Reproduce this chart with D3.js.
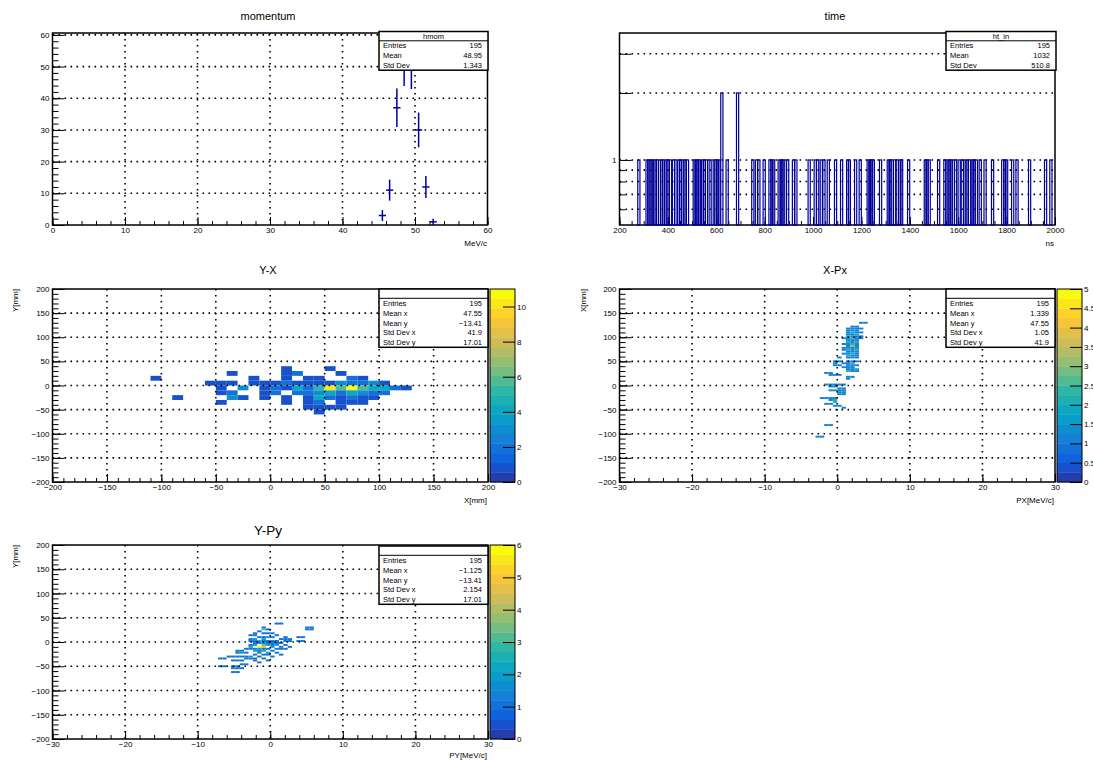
<!DOCTYPE html>
<html>
<head>
<meta charset="utf-8">
<script src="https://cdn.jsdelivr.net/npm/d3@7"></script>
<style>
body { margin: 0; background: #fff; }
text { font-family: "Liberation Sans", Arial, sans-serif; fill: #000; }
.grid { stroke: #000; stroke-width: 1.6; stroke-dasharray: 1.6,4.4; }
</style>
</head>
<body>
<script>
// momentum histogram (bin centre, counts)
var momBins = [45.5, 46.5, 47.5, 48.5, 49.5, 50.5, 51.5, 52.5];
var momCounts = [3, 11, 37, 51, 50, 30, 12, 1];

// time histogram, filled bins (ns) and their counts
var timeNs = [280,314,321,331,338,346,357,365,375,382,392,400,411,423,433,445,452,462,470,481,
	509,516,524,531,543,550,560,569,586,596,604,611,623,645,688,751,766,776,798,822,830,837,
	860,868,875,885,895,919,929,984,1009,1019,1034,1045,1063,1093,1118,1143,1150,1176,1195,
	1228,1235,1242,1249,1279,1311,1318,1327,1337,1348,1359,1366,1395,1464,1471,1480,1519,
	1545,1553,1563,1570,1580,1589,1604,1617,1628,1636,1647,1658,1665,1675,1691,1711,1742,
	1784,1793,1800,1825,1843,1895,1961,1983];
var timeCounts = timeNs.map(function(t){ return (t == 623 || t == 688) ? 2 : 1; });

// Y-X cells: [x low, y low, entries], bins 10 x 10 mm
var yxCells = [
	[-110,10,1],[-90,-30,1],[-60,0,1],[-50,0,1],[-40,0,1],[-40,20,1],[-20,10,1],[-20,0,1],[-10,0,1],
	[-50,-10,1],[-30,-10,3],[-10,-10,1],[-50,-20,1],[-40,-20,2],[-10,-20,1],
	[-40,-30,3],[-30,-30,1],[-10,-30,1],[-50,-40,1],
	[10,30,1],[50,30,1],[10,20,1],[20,20,2],[60,20,1],
	[10,10,1],[30,10,1],[40,10,1],[70,10,2],[80,10,1],
	[0,0,1],[10,0,2],[20,0,1],[30,0,1],[40,0,1],[50,0,1],[60,0,3],[70,0,2],[80,0,2],[90,0,3],[100,0,1],
	[0,-10,2],[10,-10,1],[20,-10,4],[30,-10,2],[40,-10,5],[50,-10,10],[60,-10,6],[70,-10,11],
	[80,-10,6],[90,-10,4],[100,-10,4],[110,-10,2],[120,-10,1],
	[0,-20,2],[20,-20,2],[30,-20,2],[40,-20,3],[50,-20,4],[60,-20,2],[70,-20,4],[80,-20,3],[90,-20,2],[100,-20,2],
	[10,-30,1],[30,-30,1],[40,-30,4],[50,-30,2],[60,-30,1],[70,-30,2],[80,-30,1],[90,-30,1],
	[10,-40,1],[30,-40,1],[40,-40,2],[60,-40,1],[70,-40,1],[80,-40,1],
	[30,-50,1],[40,-50,1],[50,-50,1],[60,-50,1],[40,-60,1]
];

// X-Px cells: [px low, x low, entries], bins 0.6 MeV/c x 4 mm
var xpxCells = [
	[3.0,128,1],[3.6,128,1],[1.8,120,1],[2.4,120,1],
	[1.2,116,1],[1.8,116,1],[2.4,116,1],[3.0,116,1],[1.2,112,1],[1.8,112,1],[2.4,112,1],
	[1.2,108,1],[1.8,108,2],[2.4,108,1],[3.0,108,1],[1.2,104,1],[1.8,104,1],[2.4,104,2],
	[1.2,100,2],[1.8,100,1],[2.4,100,1],[3.0,100,1],[0.6,96,1],[1.2,96,1],[1.8,96,2],[2.4,96,1],[3.0,96,1],
	[1.2,92,1],[1.8,92,1],[2.4,92,1],[1.2,88,2],[1.8,88,1],[2.4,88,2],
	[0.6,84,1],[1.2,84,1],[1.8,84,2],[2.4,84,1],[1.2,80,1],[1.8,80,3],[2.4,80,1],
	[0.6,76,1],[1.2,76,1],[1.8,76,1],[2.4,76,1],[0.6,72,1],[1.2,72,2],[1.8,72,1],[2.4,72,2],
	[1.2,68,1],[1.8,68,1],[2.4,68,1],[0.6,64,1],[1.2,64,1],[1.8,64,2],[2.4,64,1],
	[1.2,60,2],[1.8,60,1],[2.4,60,1],[0.0,56,1],[1.2,56,1],[1.8,56,1],[2.4,56,1],
	[-0.6,48,1],[0.0,48,1],[1.2,48,1],[1.8,48,1],[2.4,48,1],[-0.6,44,1],[0.6,44,1],[1.2,44,1],[1.8,44,2],
	[-0.6,40,1],[0.0,40,1],[1.2,40,1],[1.8,40,1],[2.4,40,1],[0.6,36,1],[1.2,36,1],[1.8,36,1],
	[1.2,32,1],[1.8,32,1],[2.4,32,2],[1.2,28,2],[1.8,28,1],[2.4,28,1],
	[-1.8,24,1],[-1.2,24,1],[-1.2,20,1],[-0.6,20,1],[0.0,20,1],[1.2,16,1],[1.8,16,1],[1.2,12,1],
	[-1.8,0,1],[-1.2,0,1],[-0.6,0,1],[0.0,0,1],[0.6,0,1],[-1.2,-4,1],[-0.6,-4,1],[0.0,-8,1],[0.6,-8,1],
	[-1.2,-12,1],[-0.6,-12,1],[0.0,-12,1],[0.6,-12,1],[0.0,-16,1],[0.6,-16,1],[0.0,-20,1],[0.6,-20,1],
	[-2.4,-28,1],[-1.8,-28,1],[-1.2,-28,1],[-0.6,-28,1],[-1.2,-32,1],[-0.6,-32,2],[-0.6,-36,2],
	[-1.8,-40,1],[-1.2,-40,1],[-0.6,-44,1],[0.0,-44,1],[0.6,-48,1],
	[-1.8,-84,1],[-1.2,-84,1],[-3.0,-108,1],[-2.4,-108,1]
];

// Y-Py cells: [py low, y low, entries], bins 0.6 MeV/c x 4 mm
var ypyCells = [
	[-7.2,-36,1],[-6.6,-36,1],[-7.2,-52,1],[-6.6,-52,1],[-5.4,-52,1],[-4.8,-52,1],
	[-5.4,-64,1],[-4.8,-64,1],[-5.4,-56,1],[-4.8,-56,1],[-4.2,-56,1],
	[-6.0,-32,1],[-5.4,-32,1],[-4.8,-32,1],[-4.2,-32,1],[-5.4,-40,1],[-4.8,-40,1],[-4.2,-40,1],
	[-4.2,-48,1],[-3.6,-48,1],[-4.8,-24,1],[-4.2,-24,2],[-3.6,-24,1],[-4.8,-20,1],[-4.2,-20,1],
	[-3.6,-36,1],[-3.0,-36,1],[-3.6,-32,1],[-3.0,-32,2],[-3.6,-16,1],[-3.0,-16,1],[-3.0,-12,2],
	[-3.0,-8,1],[-3.0,0,1],[-3.0,4,1],[-3.0,12,1],
	[-2.4,16,1],[-2.4,12,1],[-2.4,4,2],[-2.4,0,1],[-2.4,-4,1],[-2.4,-8,2],[-2.4,-16,1],[-2.4,-20,2],
	[-2.4,-28,1],[-2.4,-36,1],[-2.4,-40,1],
	[-1.8,20,1],[-1.8,8,1],[-1.8,0,2],[-1.8,-4,1],[-1.8,-12,6],[-1.8,-16,2],[-1.8,-20,1],[-1.8,-24,1],
	[-1.8,-32,1],[-1.8,-44,1],
	[-1.2,28,1],[-1.2,24,3],[-1.2,16,1],[-1.2,8,1],[-1.2,4,2],[-1.2,0,1],[-1.2,-4,2],[-1.2,-8,3],
	[-1.2,-12,5],[-1.2,-16,1],[-1.2,-20,2],[-1.2,-28,1],[-1.2,-36,1],
	[-0.6,24,1],[-0.6,16,1],[-0.6,8,2],[-0.6,0,1],[-0.6,-4,1],[-0.6,-8,2],[-0.6,-16,1],[-0.6,-24,2],
	[-0.6,-28,1],[-0.6,-40,1],
	[0.0,16,1],[0.0,8,1],[0.0,0,1],[0.0,-4,1],[0.0,-8,1],[0.0,-12,2],[0.0,-20,1],[0.0,-32,1],
	[0.6,36,1],[1.2,36,1],[0.6,12,1],[0.6,0,1],[0.6,-4,1],[0.6,-8,2],[0.6,-16,1],[0.6,-24,1],
	[1.2,4,1],[1.2,-4,1],[1.2,-12,1],[1.2,-16,1],[1.2,-28,1],
	[1.8,8,1],[1.8,4,1],[1.8,0,1],[1.8,-8,1],[1.8,-16,1],[2.4,4,1],[2.4,0,1],[2.4,-12,1],
	[3.6,8,1],[4.2,8,1],[3.6,0,1],[4.2,0,1],[4.8,28,1],[5.4,28,1],[4.8,24,1],[5.4,24,1]
];

// stats boxes
var statsMom = [["Entries","195"],["Mean","48.95"],["Std Dev","1.343"]];
var statsTime = [["Entries","195"],["Mean","1032"],["Std Dev","510.8"]];
var statsYX = [["Entries","195"],["Mean x","47.55"],["Mean y","\u221213.41"],["Std Dev x","41.9"],["Std Dev y","17.01"]];
var statsXPx = [["Entries","195"],["Mean x","1.339"],["Mean y","47.55"],["Std Dev x","1.05"],["Std Dev y","41.9"]];
var statsYPy = [["Entries","195"],["Mean x","\u22121.125"],["Mean y","\u221213.41"],["Std Dev x","2.154"],["Std Dev y","17.01"]];

var W = 1093, H = 760;
var lineCol = "#000099";

var svg = d3.select("body").append("svg").attr("width", W).attr("height", H);

// ROOT kBird palette
var birdStops = [0, 0.125, 0.25, 0.375, 0.5, 0.625, 0.75, 0.875, 1];
var birdR = [0.2082, 0.0592, 0.0780, 0.0232, 0.1802, 0.5301, 0.8186, 0.9956, 0.9764];
var birdG = [0.1664, 0.3599, 0.5041, 0.6419, 0.7178, 0.7492, 0.7328, 0.7862, 0.9832];
var birdB = [0.5293, 0.8684, 0.8385, 0.7914, 0.6425, 0.4662, 0.3499, 0.1968, 0.0539];
var rS = d3.scaleLinear().domain(birdStops).range(birdR).clamp(true);
var gS = d3.scaleLinear().domain(birdStops).range(birdG).clamp(true);
var bS = d3.scaleLinear().domain(birdStops).range(birdB).clamp(true);
function bird(t){
	return d3.rgb(rS(t)*255, gS(t)*255, bS(t)*255).toString();
}
function zColor(z, zmax){
	var band = Math.min(19, Math.floor(0.01 + z / zmax * 20));
	return bird((band + 0.99) / 20);
}

function fmt(v){
	return v < 0 ? "\u2212" + Math.abs(v) : String(v);
}

function styleAxis(s){
	s.select(".domain").remove();
	s.attr("font-size", 8).attr("font-family", "Liberation Sans, Arial, sans-serif");
}

function drawAxes(g, p, xs, ys, o){
	var xd = xs.domain(), yd = ys.domain();
	if (o.gridX) {
		g.append("g").selectAll("line")
			.data(o.xMajor.filter(function(v){ return v > xd[0] && v < xd[1]; }))
			.join("line").attr("class", "grid")
			.attr("x1", xs).attr("x2", xs).attr("y1", p.y0).attr("y2", p.y1);
	}
	g.append("g").selectAll("line")
		.data(o.yGrid.filter(function(v){ return v > yd[0] && v < yd[1]; }))
		.join("line").attr("class", "grid")
		.attr("x1", p.x0).attr("x2", p.x1).attr("y1", ys).attr("y2", ys);

	g.append("g").attr("transform", "translate(0," + p.y1 + ")")
		.call(d3.axisBottom(xs).tickValues(o.xMinor).tickSize(-4).tickFormat(""))
		.call(styleAxis);
	g.append("g").attr("transform", "translate(0," + p.y1 + ")")
		.call(d3.axisBottom(xs).tickValues(o.xMajor).tickSize(-8).tickPadding(2).tickFormat(fmt))
		.call(styleAxis);
	g.append("g").attr("transform", "translate(" + p.x0 + ",0)")
		.call(d3.axisLeft(ys).tickValues(o.yMinor).tickSize(-6).tickFormat(""))
		.call(styleAxis);
	g.append("g").attr("transform", "translate(" + p.x0 + ",0)")
		.call(d3.axisLeft(ys).tickValues(o.yMajor).tickSize(-12).tickPadding(3).tickFormat(o.yFmt || fmt))
		.call(styleAxis);

	g.append("rect").attr("x", p.x0).attr("y", p.y0)
		.attr("width", p.x1 - p.x0).attr("height", p.y1 - p.y0)
		.attr("fill", "none").attr("stroke", "#000").attr("stroke-width", 1.5);
}

function statsBox(g, x0, x1, y0, header, rows){
	var hh = 9.3, rh = 9.8;
	var h = hh + rows.length * rh;
	g.append("rect").attr("x", x0).attr("y", y0).attr("width", x1 - x0).attr("height", h)
		.attr("fill", "#fff").attr("stroke", "#000").attr("stroke-width", 1.5);
	g.append("line").attr("x1", x0).attr("x2", x1).attr("y1", y0 + hh).attr("y2", y0 + hh)
		.attr("stroke", "#000").attr("stroke-width", 1);
	g.append("text").attr("x", (x0 + x1) / 2).attr("y", y0 + hh / 2 + 2.7)
		.attr("text-anchor", "middle").attr("font-size", 7.5).text(header);
	rows.forEach(function(r, i){
		var y = y0 + hh + rh * i + rh / 2 + 2.7;
		g.append("text").attr("x", x0 + 4).attr("y", y).attr("font-size", 7.5).text(r[0]);
		g.append("text").attr("x", x1 - 6).attr("y", y).attr("text-anchor", "end").attr("font-size", 7.5).text(r[1]);
	});
}

function colorBar(g, x0, x1, y0, y1, zmax, ticks){
	var zs = d3.scaleLinear().domain([0, zmax]).range([y1, y0]);
	g.append("g").selectAll("rect").data(d3.range(20)).join("rect")
		.attr("x", x0).attr("width", x1 - x0)
		.attr("y", function(d){ return zs((d + 1) * zmax / 20); })
		.attr("height", function(d){ return zs(d * zmax / 20) - zs((d + 1) * zmax / 20) + 0.4; })
		.attr("fill", function(d){ return bird((d + 0.99) / 20); });
	g.append("rect").attr("x", x0).attr("y", y0).attr("width", x1 - x0).attr("height", y1 - y0)
		.attr("fill", "none").attr("stroke", "#000").attr("stroke-width", 1);
	g.append("g").attr("transform", "translate(" + x1 + ",0)")
		.call(d3.axisRight(zs).tickValues(ticks).tickSize(-12).tickPadding(2).tickFormat(d3.format("~g")))
		.call(styleAxis);
}

function title(x, y, t, size){
	svg.append("text").attr("x", x).attr("y", y).attr("text-anchor", "middle")
		.attr("font-size", size || 11).text(t);
}
function xTitle(x, y, t){
	svg.append("text").attr("x", x).attr("y", y).attr("text-anchor", "end").attr("font-size", 8).text(t);
}
function yTitle(x, y, t){
	svg.append("text").attr("transform", "translate(" + x + "," + y + ") rotate(-90)")
		.attr("text-anchor", "end").attr("font-size", 8).text(t);
}

function heatmap(g, xs, ys, cells, bw, bh, zmax){
	g.append("g").selectAll("rect").data(cells).join("rect")
		.attr("x", function(d){ return xs(d[0]); })
		.attr("width", function(d){ return xs(d[0] + bw) - xs(d[0]); })
		.attr("y", function(d){ return ys(d[1] + bh); })
		.attr("height", function(d){ return ys(d[1]) - ys(d[1] + bh); })
		.attr("fill", function(d){ return zColor(d[2], zmax); });
}

// ---- momentum ----
var pMom = {x0: 52.5, x1: 487.5, y0: 33, y1: 225};
var xMom = d3.scaleLinear().domain([0, 60]).range([pMom.x0, pMom.x1]);
var yMom = d3.scaleLinear().domain([0, 60.6]).range([pMom.y1, pMom.y0]);
var gMom = svg.append("g");
drawAxes(gMom, pMom, xMom, yMom, {
	gridX: true,
	xMajor: d3.range(0, 61, 10), xMinor: d3.range(0, 61, 2),
	yMajor: d3.range(0, 61, 10), yMinor: d3.range(0, 61, 2), yGrid: d3.range(0, 61, 10)
});
var marks = gMom.append("g").attr("stroke", lineCol).attr("stroke-width", 1.5);
momBins.forEach(function(c, i){
	var n = momCounts[i], e = Math.sqrt(n);
	marks.append("line").attr("x1", xMom(c - 0.5)).attr("x2", xMom(c + 0.5)).attr("y1", yMom(n)).attr("y2", yMom(n));
	marks.append("line").attr("x1", xMom(c)).attr("x2", xMom(c)).attr("y1", yMom(n - e)).attr("y2", yMom(n + e));
});
statsBox(gMom, 379, 488, 31.5, "hmom", statsMom);
title(268, 20, "momentum");
xTitle(487, 246, "MeV/c");

// ---- time ----
var pTime = {x0: 619.5, x1: 1055, y0: 33, y1: 225};
var xTime = d3.scaleLinear().domain([200, 2000]).range([pTime.x0, pTime.x1]);
var yTime = d3.scaleLog().domain([0.51, 3.72]).range([pTime.y1, pTime.y0]);
var gTime = svg.append("g");
drawAxes(gTime, pTime, xTime, yTime, {
	gridX: false,
	xMajor: d3.range(200, 2001, 200), xMinor: d3.range(200, 2001, 50),
	yMajor: [1, 2, 3], yMinor: [0.6, 0.7, 0.8, 0.9], yGrid: [0.6, 0.7, 0.8, 0.9, 1, 2, 3],
	yFmt: function(v){ return v == 1 ? "1" : ""; }
});
gTime.append("g").selectAll("rect").data(timeNs).join("rect")
	.attr("x", function(t){ return xTime(t - 4.5); })
	.attr("width", function(t){ return xTime(t + 4.5) - xTime(t - 4.5); })
	.attr("y", function(t, i){ return yTime(timeCounts[i]); })
	.attr("height", function(t, i){ return pTime.y1 - yTime(timeCounts[i]); })
	.attr("fill", "none").attr("stroke", lineCol).attr("stroke-width", 1.2);
statsBox(gTime, 946, 1056, 31.5, "ht_in", statsTime);
title(835, 20, "time");
xTitle(1054, 246, "ns");

// ---- Y-X ----
var pYX = {x0: 52.5, x1: 488, y0: 289, y1: 482};
var xYX = d3.scaleLinear().domain([-200, 200]).range([pYX.x0, pYX.x1]);
var yYX = d3.scaleLinear().domain([-200, 200]).range([pYX.y1, pYX.y0]);
var gYX = svg.append("g");
heatmap(gYX, xYX, yYX, yxCells, 10, 10, 11);
drawAxes(gYX, pYX, xYX, yYX, {
	gridX: true,
	xMajor: d3.range(-200, 201, 50), xMinor: d3.range(-200, 201, 10),
	yMajor: d3.range(-200, 201, 50), yMinor: d3.range(-200, 201, 10), yGrid: d3.range(-200, 201, 50)
});
statsBox(gYX, 379, 488, 289, "", statsYX);
colorBar(gYX, 490, 515, 289, 482, 11, [0, 2, 4, 6, 8, 10]);
title(268, 274, "Y-X");
xTitle(487, 503, "X[mm]");
yTitle(18, 289, "Y[mm]");

// ---- X-Px ----
var pXPx = {x0: 619.5, x1: 1055, y0: 289, y1: 482};
var xXPx = d3.scaleLinear().domain([-30, 30]).range([pXPx.x0, pXPx.x1]);
var yXPx = d3.scaleLinear().domain([-200, 200]).range([pXPx.y1, pXPx.y0]);
var gXPx = svg.append("g");
heatmap(gXPx, xXPx, yXPx, xpxCells, 0.6, 4, 5);
drawAxes(gXPx, pXPx, xXPx, yXPx, {
	gridX: true,
	xMajor: d3.range(-30, 31, 10), xMinor: d3.range(-30, 31, 2),
	yMajor: d3.range(-200, 201, 50), yMinor: d3.range(-200, 201, 10), yGrid: d3.range(-200, 201, 50)
});
statsBox(gXPx, 946, 1055, 289, "", statsXPx);
colorBar(gXPx, 1057, 1082, 289, 482, 5, d3.range(0, 5.01, 0.5));
title(835, 274, "X-Px");
xTitle(1054, 503, "PX[MeV/c]");
yTitle(586, 289, "X[mm]");

// ---- Y-Py ----
var pYPy = {x0: 52.5, x1: 488, y0: 545, y1: 739};
var xYPy = d3.scaleLinear().domain([-30, 30]).range([pYPy.x0, pYPy.x1]);
var yYPy = d3.scaleLinear().domain([-200, 200]).range([pYPy.y1, pYPy.y0]);
var gYPy = svg.append("g");
heatmap(gYPy, xYPy, yYPy, ypyCells, 0.6, 4, 6);
drawAxes(gYPy, pYPy, xYPy, yYPy, {
	gridX: true,
	xMajor: d3.range(-30, 31, 10), xMinor: d3.range(-30, 31, 2),
	yMajor: d3.range(-200, 201, 50), yMinor: d3.range(-200, 201, 10), yGrid: d3.range(-200, 201, 50)
});
statsBox(gYPy, 379, 488, 546, "", statsYPy);
colorBar(gYPy, 490, 515, 545, 739, 6, d3.range(0, 7, 1));
title(268, 535, "Y-Py", 13.5);
xTitle(487, 758, "PY[MeV/c]");
yTitle(18, 545, "Y[mm]");
</script>
</body>
</html>
